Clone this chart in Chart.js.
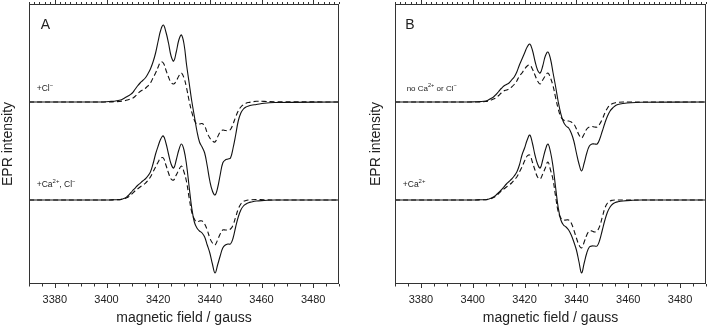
<!DOCTYPE html>
<html>
<head>
<meta charset="utf-8">
<script src="https://cdn.jsdelivr.net/npm/chart.js@4.4.1/dist/chart.umd.min.js"></script>
<style>
html, body { margin: 0; padding: 0; background: #fff; }
#wrap { position: relative; width: 707px; height: 329px; }
#cA { position: absolute; left: 0; top: 0; }
#cB { position: absolute; left: 350px; top: 0; }
</style>
</head>
<body>
<div id="wrap">
  <canvas id="cA" width="350" height="329"></canvas>
  <canvas id="cB" width="357" height="329"></canvas>
</div>
<script>
const FIELD = [
  3370, 3398, 3401, 3403, 3405, 3406, 3407, 3408, 3409, 3410,
  3411, 3412, 3413, 3414, 3415, 3416, 3417, 3418, 3419, 3420,
  3421, 3422, 3423, 3424, 3425, 3426, 3427, 3428, 3429, 3430,
  3431, 3432, 3433, 3434, 3435, 3436, 3437, 3438, 3439, 3440,
  3441, 3442, 3443, 3444, 3445, 3446, 3447, 3448, 3449, 3450,
  3451, 3452, 3453, 3454, 3455, 3456, 3458, 3461, 3465, 3490
];
const XTICKS = [3380, 3400, 3420, 3440, 3460, 3480];

// vertical offsets of the two stacked spectra (arbitrary units)
const TOP_BASE = 182;
const BOTTOM_BASE = 84;

// panel A, +Cl-
const A_TOP_SOLID = [
  0, 0, 0.5, 0.8, 1.7, 2.6, 4, 5.5, 7, 9,
  12.5, 16, 19, 21.5, 24, 28, 33, 40, 49, 61,
  72, 77, 70, 59, 46, 41, 50, 62, 67, 58,
  37, 19, 1, -14, -29, -40, -45, -51, -64, -79,
  -89, -93, -86, -73, -61, -58, -57, -56, -46, -33,
  -19, -11, -7, -5, -4, -3.3, -2.5, -1.2, -0.5, 0
];
const A_TOP_DASH = [
  0, 0, 0, 0.3, 0.5, 0.9, 1.3, 2, 2.7, 3.5,
  5.5, 8, 10.5, 12, 13.5, 16, 19, 24, 29, 35,
  40, 39, 32, 25, 19.5, 18, 21, 26, 29, 24,
  14, 1, -10, -18, -22, -22, -21.5, -24, -31, -36,
  -39, -40, -35, -30, -28, -28.5, -28.5, -27.5, -22, -15,
  -9, -5, -2.7, -1.3, -0.5, 0, 0.7, 0.6, 0.3, 0
];
// panel A, +Ca2+, Cl-
const A_BOT_SOLID = [
  0, 0, 0, 0.2, 0.4, 0.9, 1.7, 3.5, 6, 9,
  11.7, 14.5, 16.7, 19, 21, 24, 28, 36, 46, 54,
  61, 64, 57, 46, 36, 32, 40, 50, 56, 50,
  35, 13, -8, -22, -28, -31, -33, -37, -45, -53,
  -64, -73, -65, -56, -48, -45, -44, -44, -38, -27,
  -17, -10, -6, -4, -2.7, -2, -1, -0.5, 0, 0
];
const A_BOT_DASH = [
  0, 0, 0, 0.2, 0.4, 0.8, 1.3, 2.5, 4, 6.5,
  9, 11, 13, 15, 16.7, 19.5, 23, 28, 33, 38,
  42, 42, 35, 27, 21, 20, 25, 30, 34, 28,
  18, 2, -12, -19, -22, -21, -21, -24, -30, -38,
  -43, -45, -40, -34, -30, -30, -30, -29, -25, -17,
  -9, -4, -1.5, -0.5, 0, 0.3, 0.5, 0.3, 0, 0
];
// panel B, no Ca2+ or Cl-
const B_TOP_SOLID = [
  0, 0, 0.2, 0.4, 1, 2, 3.5, 5, 7.5, 10.5,
  13.5, 16, 17.5, 19, 22, 25, 30, 37, 43, 49,
  55, 58, 52, 41, 32, 29, 36, 46, 50, 43,
  29, 15, 0, -12, -20, -24, -26, -31, -39, -51,
  -62, -69, -61, -51, -44, -42, -42, -42, -37, -29,
  -21, -14, -9, -6, -3.7, -2.5, -1.5, -0.7, -0.3, 0
];
const B_TOP_DASH = [
  0, 0, 0, 0.2, 0.5, 1, 2, 3, 4.3, 6.5,
  9, 11, 12, 13, 15, 17.5, 21, 26, 29, 33,
  36, 37, 33, 27, 21, 18, 22, 26, 29, 24,
  16, 4, -7, -15, -18, -19, -19, -20, -22, -27,
  -33, -36, -32, -27, -25, -24.5, -25, -25, -22, -17,
  -11, -6, -3, -1.5, -0.8, -0.3, 0, 0, 0, 0
];
// panel B, +Ca2+
const B_BOT_SOLID = [
  0, 0, 0, 0.2, 0.3, 0.8, 1.7, 3, 5, 7.5,
  10, 13, 16, 18.5, 21, 24, 28, 35, 45, 52,
  60, 65, 57, 45, 36, 32, 40, 50, 56, 48,
  33, 12, -8, -20, -25, -27, -30, -35, -42, -50,
  -62, -73, -63, -53, -47, -46, -46, -46, -40, -30,
  -20, -12, -7, -4, -2.5, -1.8, -1, -0.4, 0, 0
];
const B_BOT_DASH = [
  0, 0, 0, 0.2, 0.3, 0.7, 1.3, 2.5, 4, 6.5,
  9, 11, 13, 15, 17, 20, 23, 28, 33, 39,
  44, 45, 38, 30, 23, 21, 26, 32, 38, 30,
  20, 3, -12, -18, -20, -20, -20, -23, -30, -38,
  -45, -48, -42, -35, -31, -31, -32, -31, -26, -17,
  -8, -3, -1, -0.3, 0, 0, 0, 0, 0, 0
];

const FONT = '"Liberation Sans", Arial, sans-serif';

function toPoints(vals, base) {
  return FIELD.map((f, i) => ({ x: f, y: base + vals[i] }));
}

function line(vals, base, dashed) {
  return {
    data: toPoints(vals, base),
    borderColor: '#111',
    borderWidth: 1.1,
    borderDash: dashed ? [5, 3] : [],
    pointRadius: 0,
    fill: false,
    tension: 0.4
  };
}

// text with superscript parts: [[text, isSup], ...]
function drawRich(ctx, x, y, parts, size) {
  let cx = x;
  parts.forEach(([t, sup]) => {
    const fs = sup ? size * 0.7 : size;
    ctx.font = fs + 'px ' + FONT;
    ctx.fillText(t, cx, sup ? y - size * 0.4 : y);
    cx += ctx.measureText(t).width;
  });
}

const framePlugin = {
  id: 'frame',
  afterDraw(chart, args, opts) {
    const ctx = chart.ctx, a = chart.chartArea, xs = chart.scales.x, ys = chart.scales.y;
    ctx.save();
    ctx.strokeStyle = '#333';
    ctx.lineWidth = 1;
    ctx.strokeRect(a.left + 0.5, a.top + 0.5, a.right - a.left - 1, a.bottom - a.top - 1);
    ctx.beginPath();
    for (let v = 3370; v <= 3490; v += 5) {
      const px = Math.round(xs.getPixelForValue(v)) + 0.5;
      const len = v % 20 === 0 ? 4 : 2.5;
      ctx.moveTo(px, a.bottom);
      ctx.lineTo(px, a.bottom + len);
    }
    for (let v = 3370; v <= 3490; v += 2) {
      const px = Math.round(xs.getPixelForValue(v)) + 0.5;
      const len = v % 20 === 0 ? 4 : 2;
      ctx.moveTo(px, a.top);
      ctx.lineTo(px, a.top - len);
    }
    ctx.stroke();

    ctx.fillStyle = '#222';
    ctx.textBaseline = 'middle';
    ctx.textAlign = 'left';
    (opts.labels || []).forEach(l => {
      drawRich(ctx, xs.getPixelForValue(l.x), ys.getPixelForValue(l.y), l.parts, l.size);
    });
    ctx.restore();
  }
};

function makeChart(id, datasets, yAxisWidth, yTitlePad, rightPad, labels) {
  return new Chart(document.getElementById(id), {
    type: 'line',
    data: { datasets: datasets },
    options: {
      responsive: false,
      animation: false,
      layout: { padding: { top: 4, right: rightPad, left: 0, bottom: 0 } },
      plugins: {
        legend: { display: false },
        tooltip: { enabled: false },
        frame: { labels: labels }
      },
      scales: {
        x: {
          type: 'linear',
          min: 3370,
          max: 3490,
          afterBuildTicks: s => { s.ticks = XTICKS.map(v => ({ value: v })); },
          afterFit: s => { s.height = 45; },
          grid: { display: false, drawTicks: false },
          border: { display: false },
          ticks: {
            padding: 9, color: '#222', font: { size: 11, family: FONT },
            maxRotation: 0, autoSkip: false,
            callback: v => String(v)
          },
          title: {
            display: true, text: 'magnetic field / gauss', color: '#222',
            font: { size: 14, family: FONT }, padding: { top: 0, bottom: 2 }
          }
        },
        y: {
          min: 0,
          max: 280,
          afterFit: s => { s.width = yAxisWidth; },
          grid: { display: false, drawTicks: false },
          border: { display: false },
          ticks: { display: false },
          title: {
            display: true, text: 'EPR intensity', color: '#222',
            font: { size: 14, family: FONT }, padding: { top: yTitlePad, bottom: 0 }
          }
        }
      }
    },
    plugins: [framePlugin]
  });
}

makeChart('cA', [
  line(A_TOP_SOLID, TOP_BASE, false),
  line(A_TOP_DASH, TOP_BASE, true),
  line(A_BOT_SOLID, BOTTOM_BASE, false),
  line(A_BOT_DASH, BOTTOM_BASE, true)
], 29, 0, 11, [
  { x: 3374.5, y: 259, parts: [['A', false]], size: 14 },
  { x: 3373, y: 195, parts: [['+Cl', false], ['\u2212', true]], size: 8.5 },
  { x: 3373, y: 99, parts: [['+Ca', false], ['2+', true], [', Cl', false], ['\u2212', true]], size: 8.5 }
]);

makeChart('cB', [
  line(B_TOP_SOLID, TOP_BASE, false),
  line(B_TOP_DASH, TOP_BASE, true),
  line(B_BOT_SOLID, BOTTOM_BASE, false),
  line(B_BOT_DASH, BOTTOM_BASE, true)
], 45, 18, 1, [
  { x: 3374, y: 259, parts: [['B', false]], size: 14 },
  { x: 3374.5, y: 195, parts: [['no Ca', false], ['2+', true], [' or Cl', false], ['\u2212', true]], size: 8 },
  { x: 3373, y: 99, parts: [['+Ca', false], ['2+', true]], size: 8.5 }
]);
</script>
</body>
</html>
